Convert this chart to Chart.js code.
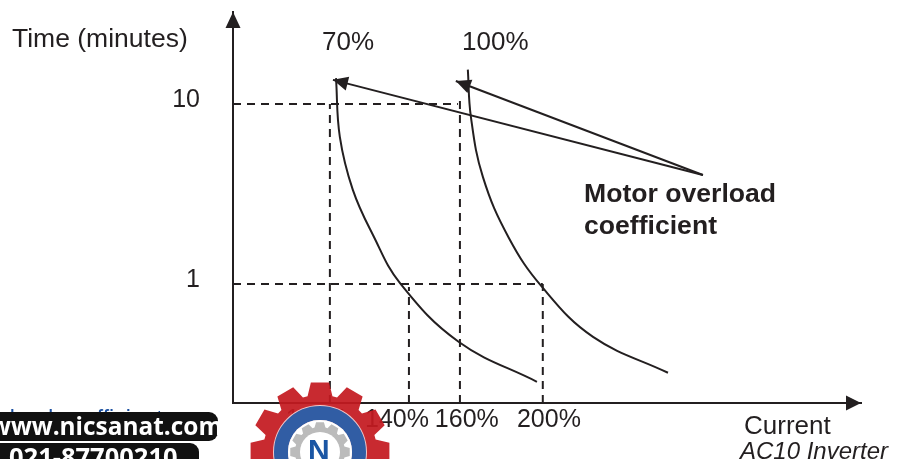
<!DOCTYPE html>
<html>
<head>
<meta charset="utf-8">
<title>Motor overload coefficient</title>
<style>
  html, body { margin: 0; padding: 0; background: #fff; overflow: hidden; }
  #wrap { width: 903px; height: 459px; }
</style>
<script src="https://cdn.jsdelivr.net/npm/chart.js@4/dist/chart.umd.min.js"></script>
</head>
<body>
<div id="wrap"><canvas id="chart" width="903" height="459"></canvas></div>
<script>
// Values: current in %, time in minutes
const curve70x = [111.4, 112.9, 118.0, 125.9, 136.5, 159.6, 190.2];
const curve70y = [13.9, 6.56, 3.33, 1.87, 1.01, 0.476, 0.286];
const curve100x = [163.1, 164.3, 169.0, 179.2, 192.2, 212.2, 241.6];
const curve100y = [15.5, 8.47, 3.93, 1.80, 0.962, 0.508, 0.321];

const yMin = 0.218;
const yMax = 32.4;
const xMin = 71;
const xMax = 317.3;

const yTickValues = [1, 10];
const yTickLabels = ['1', '10'];
const xTickValues = [103.9, 135.3, 162.7, 194.9];
const xTickLabels = ['110%', '140%', '160%', '200%'];

// Dashed guides
const guide10x = [xMin, 159.2];
const guide10y = [10, 10];
const guide1x = [xMin, 192.5];
const guide1y = [1, 1];
const drop110x = [109, 109];
const drop110y = [yMin, 10];
const drop140x = [140, 140];
const drop140y = [yMin, 0.96];
const drop160x = [160, 160];
const drop160y = [yMin, 10.7];
const drop200x = [192.5, 192.5];
const drop200y = [yMin, 1];

// Callout arrows, from the label to the curve tops
const arrow70x = [255.3, 110.2];
const arrow70y = [4.03, 13.6];
const arrow100x = [255.3, 158.4];
const arrow100y = [4.03, 13.4];

const INK = '#231f20';

function toPoints(xs, ys) {
  return xs.map((x, i) => ({ x: x, y: ys[i] }));
}

function curve(label, xs, ys) {
  return { label: label, data: toPoints(xs, ys), borderColor: INK, borderWidth: 2, tension: 0.4, pointRadius: 0 };
}

function guide(label, xs, ys) {
  return { label: label, data: toPoints(xs, ys), borderColor: INK, borderWidth: 2, borderDash: [8, 6], pointRadius: 0 };
}

function arrow(label, xs, ys) {
  return { label: label, data: toPoints(xs, ys), borderColor: INK, borderWidth: 2, pointRadius: 0 };
}

function head(ctx, x, y, angle, len, half) {
  ctx.save();
  ctx.translate(x, y);
  ctx.rotate(angle);
  ctx.fillStyle = INK;
  ctx.beginPath();
  ctx.moveTo(0, 0);
  ctx.lineTo(-len, -half);
  ctx.lineTo(-len, half);
  ctx.closePath();
  ctx.fill();
  ctx.restore();
}

function text(ctx, str, x, y, font, color) {
  ctx.font = font;
  ctx.fillStyle = color || INK;
  ctx.textAlign = 'left';
  ctx.textBaseline = 'alphabetic';
  ctx.fillText(str, x, y);
}

function drawGear(ctx, cx, cy, teeth, rOut, rIn, color) {
  const step = Math.PI * 2 / teeth;
  ctx.fillStyle = color;
  ctx.beginPath();
  for (let i = 0; i < teeth; i++) {
    const a = -Math.PI / 2 + i * step;
    const pts = [[rIn, -0.42], [rOut, -0.25], [rOut, 0.25], [rIn, 0.42]];
    pts.forEach(p => {
      const t = a + p[1] * step;
      ctx.lineTo(cx + p[0] * Math.cos(t), cy + p[0] * Math.sin(t));
    });
  }
  ctx.closePath();
  ctx.fill();
}

function drawLogo(ctx) {
  const cx = 320, cy = 452;
  ctx.save();
  ctx.globalAlpha = 0.93;
  drawGear(ctx, cx, cy, 12, 70, 57, '#c41a20');
  ctx.globalAlpha = 0.75;
  ctx.fillStyle = '#ffffff';
  ctx.beginPath();
  ctx.arc(cx, cy, 47, 0, Math.PI * 2);
  ctx.fill();
  ctx.globalAlpha = 0.85;
  ctx.strokeStyle = '#0f4a9e';
  ctx.lineWidth = 14;
  ctx.beginPath();
  ctx.arc(cx, cy, 39, 0, Math.PI * 2);
  ctx.stroke();
  ctx.globalAlpha = 1;
  ctx.fillStyle = '#ffffff';
  ctx.beginPath();
  ctx.arc(cx, cy, 32, 0, Math.PI * 2);
  ctx.fill();
  ctx.globalAlpha = 0.9;
  drawGear(ctx, cx, cy, 12, 30, 25, '#b4b4b4');
  ctx.globalAlpha = 1;
  ctx.fillStyle = '#ffffff';
  ctx.beginPath();
  ctx.arc(cx, cy, 20, 0, Math.PI * 2);
  ctx.fill();
  text(ctx, 'N', cx - 12, cy + 8, 'bold 30px "Liberation Sans"', '#1b56a4');
  ctx.restore();
}

function drawBadges(ctx) {
  // hyperlink text hidden behind the badge, only its top shows
  text(ctx, 'overload coefficient', -35, 427, '23px "Liberation Sans"', '#1a4fa0');
  ctx.fillStyle = '#111111';
  ctx.beginPath();
  ctx.roundRect(-20, 412, 238, 29, 9);
  ctx.fill();
  ctx.beginPath();
  ctx.roundRect(-20, 443, 219, 30, 9);
  ctx.fill();
  text(ctx, 'www.nicsanat.com', -10, 435, 'bold 24.4px "Open Sans"', '#ffffff');
  text(ctx, '021-87700210', 9, 466, 'bold 25.5px "Open Sans"', '#ffffff');
}

const overlay = {
  id: 'overlay',
  afterDraw(chart) {
    const ctx = chart.ctx;
    const x = chart.scales.x;
    const y = chart.scales.y;
    const area = chart.chartArea;

    // axis arrow heads
    head(ctx, area.right, y.getPixelForValue(yMin), 0, 15, 7.5);
    head(ctx, x.getPixelForValue(xMin), area.top, -Math.PI / 2, 16, 7.5);

    // callout arrow heads
    [[arrow70x, arrow70y], [arrow100x, arrow100y]].forEach(a => {
      const px0 = x.getPixelForValue(a[0][0]);
      const py0 = y.getPixelForValue(a[1][0]);
      const px1 = x.getPixelForValue(a[0][1]);
      const py1 = y.getPixelForValue(a[1][1]);
      head(ctx, px1, py1, Math.atan2(py1 - py0, px1 - px0), 15, 7);
    });

    const regular = '26px "Liberation Sans"';
    text(ctx, 'Time (minutes)', 12, 47, '26.5px "Liberation Sans"');
    text(ctx, '70%', 322, 50, regular);
    text(ctx, '100%', 462, 50, regular);
    text(ctx, 'Motor overload', 584, 202, 'bold 26.6px "Liberation Sans"');
    text(ctx, 'coefficient', 584, 234, 'bold 26.6px "Liberation Sans"');
    text(ctx, 'Current', 744, 434, regular);
    text(ctx, 'AC10 Inverter', 740, 459, 'italic 24px "Liberation Sans"');

    drawLogo(ctx);
    drawBadges(ctx);
  }
};

new Chart(document.getElementById('chart'), {
  type: 'scatter',
  data: {
    datasets: [
      curve('70%', curve70x, curve70y),
      curve('100%', curve100x, curve100y),
      guide('10 min', guide10x, guide10y),
      guide('1 min', guide1x, guide1y),
      guide('110%', drop110x, drop110y),
      guide('140%', drop140x, drop140y),
      guide('160%', drop160x, drop160y),
      guide('200%', drop200x, drop200y),
      arrow('to 70%', arrow70x, arrow70y),
      arrow('to 100%', arrow100x, arrow100y)
    ]
  },
  options: {
    responsive: false,
    animation: false,
    showLine: true,
    layout: { autoPadding: false, padding: { top: 12, right: 42 } },
    plugins: { legend: { display: false }, tooltip: { enabled: false }, title: { display: false } },
    scales: {
      x: {
        type: 'linear',
        min: xMin,
        max: xMax,
        grid: { display: false, drawTicks: false },
        border: { color: INK, width: 2 },
        afterFit(scale) { scale.height = 56; scale.paddingLeft = 0; scale.paddingRight = 0; },
        afterBuildTicks(scale) { scale.ticks = xTickValues.map(v => ({ value: v })); },
        ticks: {
          autoSkip: false,
          maxRotation: 0,
          padding: 2,
          color: INK,
          font: { family: '"Liberation Sans"', size: 25 },
          callback: (v, i) => xTickLabels[i]
        }
      },
      y: {
        type: 'logarithmic',
        min: yMin,
        max: yMax,
        bounds: 'data',
        grid: { display: false, drawTicks: false },
        border: { color: INK, width: 2 },
        afterFit(scale) { scale.width = 233; scale.paddingTop = 0; scale.paddingBottom = 0; },
        afterBuildTicks(scale) { scale.ticks = yTickValues.map(v => ({ value: v })); },
        ticks: {
          autoSkip: false,
          padding: 33,
          labelOffset: -4,
          color: INK,
          font: { family: '"Liberation Sans"', size: 25 },
          callback: (v, i) => yTickLabels[i]
        }
      }
    }
  },
  plugins: [overlay]
});
</script>
</body>
</html>
